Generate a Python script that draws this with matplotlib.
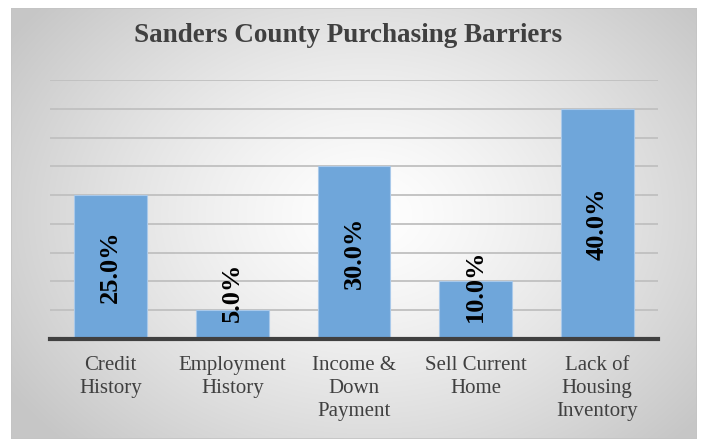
import numpy as np
import matplotlib
matplotlib.use("Agg")
import matplotlib.pyplot as plt
from matplotlib.patches import Rectangle

categories = ["Credit\nHistory", "Employment\nHistory", "Income &\nDown\nPayment",
              "Sell Current\nHome", "Lack of\nHousing\nInventory"]
values = [25.0, 5.0, 30.0, 10.0, 40.0]
title = "Sanders County Purchasing Barriers"

W, H, DPI = 703, 446, 100
fig = plt.figure(figsize=(W / DPI, H / DPI), dpi=DPI)
fig.patch.set_facecolor("white")

# chart frame with a soft radial gradient
fx0, fx1, fy0, fy1 = 11, 697, 8, 439
bg = fig.add_axes([fx0 / W, 1 - fy1 / H, (fx1 - fx0) / W, (fy1 - fy0) / H])
gx, gy = np.meshgrid(np.linspace(0, 1, 400), np.linspace(0, 1, 300))
r = np.sqrt(((gx - 0.52) / 0.62) ** 2 + ((gy - 0.48) / 0.75) ** 2)
r = np.clip(r, 0, 1)
shade = 1.0 - 0.22 * r ** 1.3
img = np.dstack([shade, shade, shade])
bg.imshow(img, extent=[0, 1, 0, 1], aspect="auto", origin="upper", interpolation="bilinear")
bg.add_patch(Rectangle((0, 0), 1, 1, transform=bg.transAxes, fill=False,
                       edgecolor="#c4c4c4", linewidth=1.2))
bg.set_xlim(0, 1)
bg.set_ylim(0, 1)
bg.axis("off")

# plot area
ax0, ax1, ay0, ay1 = 50, 658, 80, 339
ax = fig.add_axes([ax0 / W, 1 - ay1 / H, (ax1 - ax0) / W, (ay1 - ay0) / H])
ax.patch.set_alpha(0)
x = np.arange(len(values))
ax.set_xlim(-0.5, len(values) - 0.5)
ax.set_ylim(0, 45)
ax.set_yticks(np.arange(5, 46, 5))
ax.yaxis.grid(True, color="#c0c0c0", linewidth=1.3)
ax.set_axisbelow(True)
ax.tick_params(axis="y", left=False, labelleft=False)
ax.tick_params(axis="x", bottom=False, pad=9)
for s in ["top", "right", "left"]:
    ax.spines[s].set_visible(False)
ax.spines["bottom"].set_color("#404040")
ax.spines["bottom"].set_linewidth(3)
ax.spines["bottom"].set_zorder(5)

ax.bar(x, values, width=0.6, color="#6fa6da", edgecolor="#a9c9ea", linewidth=0.8, zorder=3)
ax.set_xticks(x)
ax.set_xticklabels(categories, fontfamily="Liberation Serif", fontsize=15,
                   color="#404040", linespacing=1.27, va="top")

for xi, v in zip(x, values):
    label = f"{v:.1f}%"
    if v >= 20:
        ax.text(xi, v / 2, label, rotation=90, ha="center", va="center",
                fontfamily="Liberation Serif", fontweight="bold", fontsize=19,
                color="black", zorder=4)
    else:
        ax.text(xi, 3.0, label, rotation=90, ha="center", va="bottom",
                fontfamily="Liberation Serif", fontweight="bold", fontsize=19,
                color="black", zorder=4)

fig.text(348 / W, 1 - 36 / H, title, ha="center", va="center",
         fontfamily="Liberation Serif", fontweight="bold", fontsize=19.5, color="#404040")

fig.savefig("out.png", dpi=DPI)
